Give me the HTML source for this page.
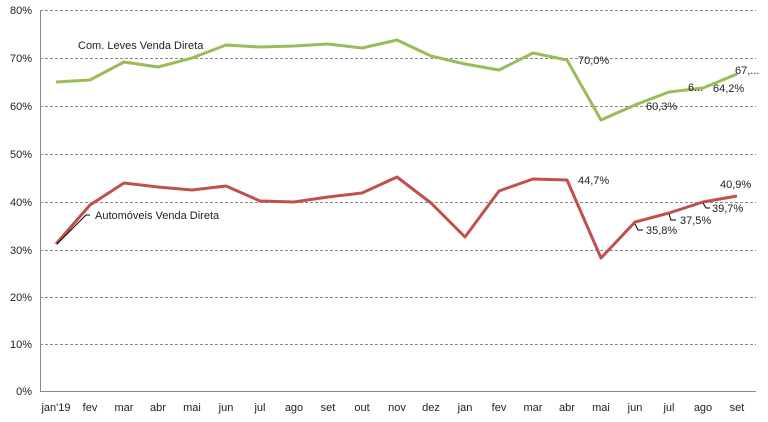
<!DOCTYPE html>
<html><head><meta charset="utf-8"><style>
body{margin:0;background:#fff}
svg{display:block;font-family:"Liberation Sans",Calibri,sans-serif}
</style></head><body>
<svg width="768" height="422" viewBox="0 0 768 422">
<g stroke="#888" stroke-width="1" stroke-dasharray="3,2">
<line x1="40" x2="756" y1="10.5" y2="10.5"/>
<line x1="40" x2="756" y1="58.5" y2="58.5"/>
<line x1="40" x2="756" y1="106.5" y2="106.5"/>
<line x1="40" x2="756" y1="154.5" y2="154.5"/>
<line x1="40" x2="756" y1="202.5" y2="202.5"/>
<line x1="40" x2="756" y1="250.5" y2="250.5"/>
<line x1="40" x2="756" y1="297.5" y2="297.5"/>
<line x1="40" x2="756" y1="344.5" y2="344.5"/>
</g>
<line x1="40.5" x2="40.5" y1="10" y2="392" stroke="#888"/>
<line x1="40" x2="756" y1="391.5" y2="391.5" stroke="#888"/>
<g font-size="11" fill="#222" text-anchor="end">
<text x="32" y="14">80%</text><text x="32" y="62">70%</text><text x="32" y="110">60%</text>
<text x="32" y="158">50%</text><text x="32" y="206">40%</text><text x="32" y="254">30%</text>
<text x="32" y="301">20%</text><text x="32" y="348">10%</text><text x="32" y="395">0%</text>
</g>
<g font-size="11" fill="#222" text-anchor="middle">
<text x="56" y="411">jan'19</text><text x="90" y="411">fev</text><text x="124" y="411">mar</text>
<text x="158" y="411">abr</text><text x="192" y="411">mai</text><text x="226" y="411">jun</text>
<text x="260" y="411">jul</text><text x="294" y="411">ago</text><text x="328" y="411">set</text>
<text x="362" y="411">out</text><text x="397" y="411">nov</text><text x="431" y="411">dez</text>
<text x="465" y="411">jan</text><text x="499" y="411">fev</text><text x="533" y="411">mar</text>
<text x="567" y="411">abr</text><text x="601" y="411">mai</text><text x="635" y="411">jun</text>
<text x="669" y="411">jul</text><text x="703" y="411">ago</text><text x="737" y="411">set</text>
</g>
<polyline fill="none" stroke="#9bbb59" stroke-width="3" stroke-linejoin="round" points="56,82 90,80 124,62 158,67 192,58 226,45 260,47 294,46 328,44 362,48 397,40 431,56 465,64 499,70 533,53 567,60 601,120 635,105 669,92 703,88 737,74"/>
<polyline fill="none" stroke="#c0504d" stroke-width="3" stroke-linejoin="round" points="56,244 90,205 124,183 158,187 192,190 226,186 260,201 294,202 328,197 362,193 397,177 431,203 465,237 499,191 533,179 567,180 601,258 635,222 669,213 703,202 737,196"/>
<polyline fill="none" stroke="#000" stroke-width="1" points="57,244 86,215 90,215"/>
<g stroke="#000" fill="none" stroke-width="1">
<polyline points="635,224 638,230 643,230"/>
<polyline points="669,214 671,220 676,220"/>
<polyline points="703,203 706,208 710,208"/>
</g>
<g font-size="11" fill="#222">
<text x="78" y="49">Com. Leves Venda Direta</text>
<text x="95" y="219">Automóveis Venda Direta</text>
<text x="578" y="64">70,0%</text>
<text x="646" y="110">60,3%</text>
<text x="688" y="91">6...</text>
<text x="713" y="92">64,2%</text>
<text x="735" y="74">67,...</text>
<text x="578" y="184">44,7%</text>
<text x="646" y="234">35,8%</text>
<text x="680" y="224">37,5%</text>
<text x="712" y="212">39,7%</text>
<text x="720" y="188">40,9%</text>
</g>
</svg>
</body></html>
